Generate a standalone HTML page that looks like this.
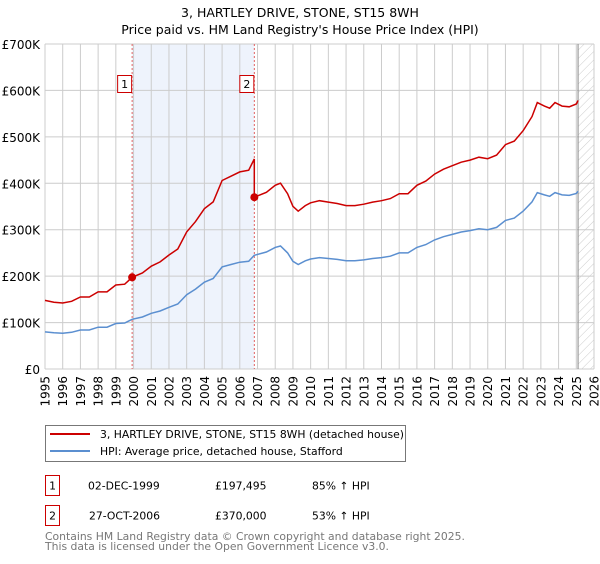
<!DOCTYPE html>
<html><head><meta charset="utf-8"><style>
body{margin:0;background:#fff;font-family:"DejaVu Sans","Liberation Sans",sans-serif;}
svg text{font-family:"DejaVu Sans","Liberation Sans",sans-serif;}
</style></head><body>
<svg id="c" width="600" height="560" xmlns="http://www.w3.org/2000/svg">
<defs><pattern id="hatch" width="6" height="6" patternUnits="userSpaceOnUse" patternTransform="rotate(45)"><line x1="0" y1="0" x2="0" y2="6" stroke="#ccc" stroke-width="1"/></pattern></defs>
<text x="300" y="17" text-anchor="middle" font-size="12.5">3, HARTLEY DRIVE, STONE, ST15 8WH</text>
<text x="300" y="34" text-anchor="middle" font-size="12.5">Price paid vs. HM Land Registry's House Price Index (HPI)</text>
<g id="plot"></g>
<g>
<rect x="45.5" y="425.5" width="360" height="36" fill="#fff" stroke="#777"/>
<line x1="50" y1="434" x2="90" y2="434" stroke="#cc0000" stroke-width="2"/>
<text x="100" y="438" font-size="10.8">3, HARTLEY DRIVE, STONE, ST15 8WH (detached house)</text>
<line x1="50" y1="451" x2="90" y2="451" stroke="#5b8fd0" stroke-width="2"/>
<text x="100" y="455" font-size="10.8">HPI: Average price, detached house, Stafford</text>
</g>
<g>
<rect x="45.5" y="475.5" width="14" height="20" fill="#fff" stroke="#cc0000"/>
<text x="52.5" y="489.5" font-size="10.8" text-anchor="middle">1</text>
<text x="88" y="489.5" font-size="10.8">02-DEC-1999</text>
<text x="215" y="489.5" font-size="10.8">£197,495</text>
<text x="312" y="489.5" font-size="10.8">85% ↑ HPI</text>
</g>
<g>
<rect x="45.5" y="505.5" width="14" height="20" fill="#fff" stroke="#cc0000"/>
<text x="52.5" y="519.5" font-size="10.8" text-anchor="middle">2</text>
<text x="89" y="519.5" font-size="10.8">27-OCT-2006</text>
<text x="215" y="519.5" font-size="10.8">£370,000</text>
<text x="312" y="519.5" font-size="10.8">53% ↑ HPI</text>
</g>
<text x="45" y="540" font-size="10.8" fill="#777">Contains HM Land Registry data © Crown copyright and database right 2025.</text>
<text x="45" y="550" font-size="10.8" fill="#777">This data is licensed under the Open Government Licence v3.0.</text>
</svg>
<script>
const years=[1995,1995.5,1996,1996.5,1997,1997.5,1998,1998.5,1999,1999.5,1999.92,2000.5,2001,2001.5,2002,2002.5,2003,2003.5,2004,2004.5,2005,2005.5,2006,2006.5,2006.82,2007.5,2008,2008.3,2008.7,2009,2009.3,2009.7,2010,2010.5,2011,2011.5,2012,2012.5,2013,2013.5,2014,2014.5,2015,2015.5,2016,2016.5,2017,2017.5,2018,2018.5,2019,2019.5,2020,2020.5,2021,2021.5,2022,2022.5,2022.8,2023.2,2023.5,2023.8,2024.2,2024.6,2025,2025.1];
const hpi=[80,78,77,79,84,84,90,90,98,99,107,112,120,125,133,140,160,172,187,195,220,225,230,232,245,252,262,265,250,232,225,233,237,240,238,236,233,233,235,238,240,243,250,250,262,268,278,285,290,295,298,302,300,305,320,325,340,360,380,375,372,380,375,374,378,383];
const saleYears=[1999.92,2006.82];
const salePrices=[197.495,370];
const yTicks=[0,100,200,300,400,500,600,700];
const yLabels=["£0","£100K","£200K","£300K","£400K","£500K","£600K","£700K"];
const xTicks=[1995,1996,1997,1998,1999,2000,2001,2002,2003,2004,2005,2006,2007,2008,2009,2010,2011,2012,2013,2014,2015,2016,2017,2018,2019,2020,2021,2022,2023,2024,2025,2026];
const X0=45,X1=594,Y0=369,Y1=44;
const sx=y=>X0+(y-1995)/(2026-1995)*(X1-X0);
const sy=v=>Y0-v/700*(Y0-Y1);
const NS="http://www.w3.org/2000/svg";
const g=document.getElementById('plot');
function mk(t,a,p){const e=document.createElementNS(NS,t);for(const k in a)e.setAttribute(k,a[k]);(p||g).appendChild(e);return e;}
mk('rect',{x:sx(saleYears[0]),y:Y1,width:sx(saleYears[1])-sx(saleYears[0]),height:Y0-Y1,fill:'#eef3fc'});
mk('rect',{x:sx(2025.1),y:Y1,width:X1-sx(2025.1),height:Y0-Y1,fill:'url(#hatch)'});
yTicks.forEach((v,i)=>{
 const l=mk('line',{x1:X0,x2:X1,y1:sy(v),y2:sy(v),stroke:'#ccc'});
 
 
 const t=mk('text',{x:40,y:sy(v)+5,'text-anchor':'end','font-size':'12'});
 t.textContent=yLabels[i];
 
 
});
xTicks.forEach(yr=>{
 const l=mk('line',{x1:sx(yr),x2:sx(yr),y1:Y1,y2:Y0,stroke:'#ccc'});
 
 
 const t=mk('text',{x:0,y:0,'text-anchor':'end','font-size':'12',transform:`translate(${sx(yr)+4.5},376) rotate(-90)`});
 t.textContent=yr;
 
 
});
mk('line',{x1:sx(2025.1),x2:sx(2025.1),y1:Y1,y2:Y0,stroke:'#888'});
function hpiAt(y){for(let i=1;i<years.length;i++){if(years[i]>=y){const f=(y-years[i-1])/(years[i]-years[i-1]);return hpi[i-1]+f*(hpi[i]-hpi[i-1]);}}return hpi[hpi.length-1];}
const r1=salePrices[0]/hpiAt(saleYears[0]), r2=salePrices[1]/hpiAt(saleYears[1]);
saleYears.forEach((s,i)=>{
 const l=mk('line',{x1:sx(s),x2:sx(s),y1:Y1,y2:Y0,stroke:'#e06060','stroke-dasharray':'2,2'});
 
 
});
const bp=years.map((y,i)=>`${sx(y).toFixed(1)},${sy(hpi[i]).toFixed(1)}`).join(' ');
const hl=mk('polyline',{points:bp,fill:'none',stroke:'#5b8fd0','stroke-width':1.5});


let rp=[];
years.forEach((y,i)=>{
 if(y<saleYears[1]) rp.push([y,hpi[i]*r1]);
 else { if(rp.length&&rp[rp.length-1][0]<saleYears[1]){rp.push([saleYears[1],hpiAt(saleYears[1])*r1]);} rp.push([y,hpi[i]*r2]); }
});
const pl=mk('polyline',{points:rp.map(p=>`${sx(p[0]).toFixed(1)},${sy(p[1]).toFixed(1)}`).join(' '),fill:'none',stroke:'#cc0000','stroke-width':1.5});


saleYears.forEach((s,i)=>{
 const c=mk('circle',{cx:sx(s),cy:sy(salePrices[i]),r:4,fill:'#cc0000'});
 
 
 const b=mk('rect',{x:sx(s)-14.5,y:75.5,width:14,height:17,fill:'#fff',stroke:'#cc0000'});
 
 
 const t=mk('text',{x:sx(s)-7.5,y:88,'text-anchor':'middle','font-size':'11'});
 t.textContent=String(i+1);
});
</script>
</body></html>
